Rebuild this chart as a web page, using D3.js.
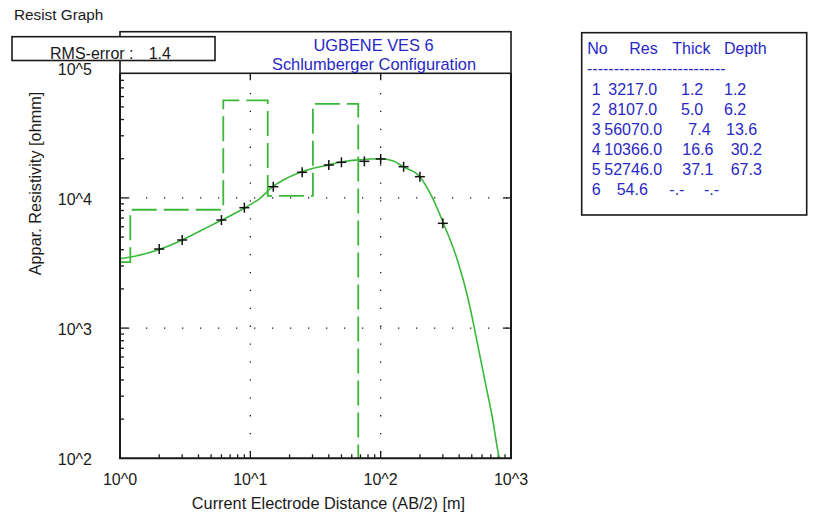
<!DOCTYPE html>
<html>
<head>
<meta charset="utf-8">
<script src="https://cdn.jsdelivr.net/npm/d3@7"></script>
<style>
  html, body { margin: 0; padding: 0; background: #ffffff; }
  svg { display: block; font-family: "Liberation Sans", Arial, sans-serif; }
</style>
</head>
<body>
<svg id="chart" width="814" height="514"></svg>
<script>
// ---------------- DATA ----------------
const windowTitle = "Resist Graph";
const chartTitle = "UGBENE VES 6";
const chartSubtitle = "Schlumberger Configuration";
const rmsLabel = "RMS-error :";
const rmsValue = "1.4";
const xAxisTitle = "Current Electrode Distance (AB/2) [m]";
const yAxisTitle = "Appar. Resistivity [ohmm]";
const xTickValues = [1, 10, 100, 1000];
const xTickLabels = ["10^0", "10^1", "10^2", "10^3"];
const yTickValues = [100, 1000, 10000, 100000];
const yTickLabels = ["10^2", "10^3", "10^4", "10^5"];

// observed field data (AB/2, apparent resistivity)
const obsAB2 = [2, 3, 6, 9, 15, 25, 40, 50, 75, 100, 150, 200, 300];
const obsRho = [4050, 4750, 6760, 8410, 12190, 15730, 17890, 18770, 19100, 19900, 17360, 14550, 6380];

// calculated model curve
const curveAB2 = [1, 1.215, 2, 3, 4.36, 6.06, 9.1, 11.87, 14.85, 17.9, 24.8, 39.7, 54.9, 65.5, 100, 125, 149, 200, 247, 303, 395, 471, 546, 652, 712, 800, 815];
const curveRho = [3420, 3520, 4016, 4750, 5740, 6760, 8410, 9930, 12190, 13720, 15890, 17890, 19200, 19550, 20000, 19200, 17360, 14550, 10210, 6380, 3146, 1644, 810, 335, 218, 109, 100];

// layered model
const layerNo = [1, 2, 3, 4, 5, 6];
const layerRes = [3217.0, 8107.0, 56070.0, 10366.0, 52746.0, 54.6];
const layerThick = [1.2, 5.0, 7.4, 16.6, 37.1];
const layerDepth = [1.2, 6.2, 13.6, 30.2, 67.3];
const legendHeaders = ["No", "Res", "Thick", "Depth"];

// ---------------- LAYOUT ----------------
const svg = d3.select("#chart");
const L = 120, R = 511, T = 73.3, B = 458.3;
const x = d3.scaleLog().domain([1, 1000]).range([L, R]);
const y = d3.scaleLog().domain([100, 100000]).range([B, B - 3 * 130.2]);
const ink = "#1a1a1a";
const blue = "#2828c4";
const green = "#3ab83a";

svg.append("rect").attr("width", 814).attr("height", 514).attr("fill", "#ffffff");

svg.append("defs").append("clipPath").attr("id", "plotclip")
  .append("rect").attr("x", L).attr("y", T).attr("width", R - L).attr("height", B - T);

// window title
svg.append("text").attr("x", 14).attr("y", 20).attr("font-size", 15.3).attr("fill", ink)
  .text(windowTitle);

// ---------------- GRID (dotted) ----------------
const grid = svg.append("g");
[10, 100].forEach(v => {
  grid.append("line").attr("x1", x(v)).attr("x2", x(v)).attr("y1", T).attr("y2", B)
    .attr("stroke", ink).attr("stroke-width", 1.3).attr("stroke-dasharray", "1.3 16.6")
    .attr("stroke-dashoffset", 16.2);
});
[1000, 10000].forEach(v => {
  grid.append("line").attr("x1", L).attr("x2", R).attr("y1", y(v)).attr("y2", y(v))
    .attr("stroke", ink).attr("stroke-width", 1.3).attr("stroke-dasharray", "1.3 16.7")
    .attr("stroke-dashoffset", 10);
});

// ---------------- TICKS ----------------
const ticks = svg.append("g").attr("stroke", ink).attr("stroke-width", 1.3);
const minorX = [], minorY = [];
for (let d = 1; d < 1000; d *= 10) for (let k = 2; k <= 9; k++) minorX.push(d * k);
for (let d = 100; d < 100000; d *= 10) for (let k = 2; k <= 9; k++) minorY.push(d * k);
minorX.forEach(v => ticks.append("line").attr("x1", x(v)).attr("x2", x(v)).attr("y1", B).attr("y2", B - 4));
minorY.forEach(v => { if (y(v) > T + 1) ticks.append("line").attr("x1", L).attr("x2", L + 4).attr("y1", y(v)).attr("y2", y(v)); });
[10, 100].forEach(v => {
  ticks.append("line").attr("x1", x(v)).attr("x2", x(v)).attr("y1", B).attr("y2", B - 7);
  ticks.append("line").attr("x1", x(v)).attr("x2", x(v)).attr("y1", T).attr("y2", T + 7);
});
[1000, 10000].forEach(v => {
  ticks.append("line").attr("x1", L).attr("x2", L + 8).attr("y1", y(v)).attr("y2", y(v));
  ticks.append("line").attr("x1", R).attr("x2", R - 8).attr("y1", y(v)).attr("y2", y(v));
});

// ---------------- MODEL (dashed step) ----------------
const stepPts = [[1, layerRes[0]]];
layerDepth.forEach((d, i) => { stepPts.push([d, layerRes[i]]); stepPts.push([d, layerRes[i + 1]]); });
stepPts.push([1000, layerRes[layerRes.length - 1]]);
const lineGen = d3.line().x(d => x(d[0])).y(d => y(d[1]));
const plot = svg.append("g").attr("clip-path", "url(#plotclip)");
plot.append("path").datum(stepPts).attr("d", lineGen)
  .attr("fill", "none").attr("stroke", green).attr("stroke-width", 1.8)
  .attr("stroke-dasharray", "25 7");

// ---------------- CALCULATED CURVE ----------------
const curvePts = curveAB2.map((a, i) => [a, curveRho[i]]);
plot.append("path").datum(curvePts)
  .attr("d", d3.line().x(d => x(d[0])).y(d => y(d[1])).curve(d3.curveMonotoneX))
  .attr("fill", "none").attr("stroke", green).attr("stroke-width", 1.6);

// ---------------- OBSERVED POINTS ----------------
const pts = svg.append("g").attr("stroke", "#111").attr("stroke-width", 1.5);
obsAB2.forEach((a, i) => {
  const cx = x(a), cy = y(obsRho[i]);
  pts.append("line").attr("x1", cx - 5).attr("x2", cx + 5).attr("y1", cy).attr("y2", cy);
  pts.append("line").attr("x1", cx).attr("x2", cx).attr("y1", cy - 5).attr("y2", cy + 5);
});

// ---------------- FRAME ----------------
svg.append("path")
  .attr("d", `M${L},${T}V${B}H${R}V${T}`)
  .attr("fill", "none").attr("stroke", ink).attr("stroke-width", 2);

// header box
svg.append("rect").attr("x", L).attr("y", 31.7).attr("width", R - L).attr("height", T - 31.7)
  .attr("fill", "#ffffff").attr("stroke", ink).attr("stroke-width", 1.6);
svg.append("text").attr("x", 373.5).attr("y", 50.5).attr("text-anchor", "middle")
  .attr("font-size", 16.4).attr("fill", blue).text(chartTitle);
svg.append("text").attr("x", 374).attr("y", 69.5).attr("text-anchor", "middle")
  .attr("font-size", 16.4).attr("fill", blue).text(chartSubtitle);

// RMS box
svg.append("rect").attr("x", 12).attr("y", 36.7).attr("width", 203).attr("height", 23.8)
  .attr("fill", "#ffffff").attr("stroke", ink).attr("stroke-width", 1.6);
svg.append("text").attr("x", 50).attr("y", 58.5).attr("font-size", 16).attr("fill", ink).text(rmsLabel);
svg.append("text").attr("x", 148.7).attr("y", 58.5).attr("font-size", 16).attr("fill", ink).text(rmsValue);

// ---------------- AXIS LABELS ----------------
xTickValues.forEach((v, i) => {
  svg.append("text").attr("x", x(v)).attr("y", 485).attr("text-anchor", "middle")
    .attr("font-size", 16).attr("fill", ink).text(xTickLabels[i]);
});
yTickValues.forEach((v, i) => {
  svg.append("text").attr("x", 92).attr("y", y(v) + 7).attr("text-anchor", "end")
    .attr("font-size", 16).attr("fill", ink).text(yTickLabels[i]);
});
svg.append("text").attr("x", 328.5).attr("y", 509).attr("text-anchor", "middle")
  .attr("font-size", 16.3).attr("fill", ink).text(xAxisTitle);
svg.append("text").attr("transform", "translate(41,183.5) rotate(-90)").attr("text-anchor", "middle")
  .attr("font-size", 16.3).attr("fill", ink).text(yAxisTitle);

// ---------------- LEGEND TABLE ----------------
const lg = svg.append("g").attr("font-size", 16).attr("fill", blue);
lg.append("rect").attr("x", 581.7).attr("y", 32.7).attr("width", 225).attr("height", 182.3)
  .attr("fill", "#ffffff").attr("stroke", ink).attr("stroke-width", 1.6);
const headerX = [587.3, 629.3, 672.3, 724];
legendHeaders.forEach((h, i) => lg.append("text").attr("x", headerX[i]).attr("y", 54).text(h));
lg.append("text").attr("x", 587).attr("y", 73.5).text("-".repeat(26));
const noX = 591.7;
const resX = [608.3, 608.3, 604.3, 604.3, 604.3, 616.7];
const thickX = [681, 681, 688.3, 682.3, 682.3, 669.3];
const depthX = [724, 724, 726, 730.7, 730.7, 704];
layerNo.forEach((n, i) => {
  const by = 95 + i * 20;
  lg.append("text").attr("x", noX).attr("y", by).text(n);
  lg.append("text").attr("x", resX[i]).attr("y", by).text(layerRes[i].toFixed(1));
  lg.append("text").attr("x", thickX[i]).attr("y", by).text(i < layerThick.length ? layerThick[i].toFixed(1) : "-.-");
  lg.append("text").attr("x", depthX[i]).attr("y", by).text(i < layerDepth.length ? layerDepth[i].toFixed(1) : "-.-");
});
</script>
</body>
</html>
